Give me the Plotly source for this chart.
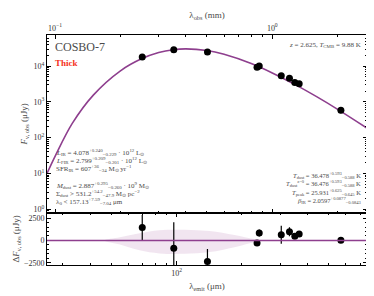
import numpy as np
import plotly.graph_objects as go

z = 2.625
# observed photometry (lambda_obs in mm, flux in microJy)
lam_obs_mm = [0.252, 0.352, 0.503, 0.851, 0.871, 1.10, 1.20, 1.27, 1.33, 2.07]
flux_ujy = [18100, 28600, 24800, 9270, 10100, 5420, 4570, 3490, 3200, 581]
resid_ujy = [1465, -866, -2350, -280, 830, 640, 975, 465, 720, 20]
resid_err = [1400, 2900, 1400, 250, 400, 1000, 500, 200, 200, 100]

# best-fit model curve
model_lam_mm = [0.0918, 0.1, 0.12, 0.15, 0.2, 0.25, 0.3, 0.35, 0.4, 0.5, 0.6, 0.8, 1.0, 1.3, 1.6, 2.0, 2.73]
model_flux = [10, 30, 250, 1550, 7400, 16000, 23900, 28700, 30300, 27300, 21400, 11800, 6450, 2850, 1400, 620, 185]

# residual uncertainty band
band_lam_mm = [0.169, 0.199, 0.245, 0.303, 0.395, 0.514, 0.670, 0.826, 0.918]
band_hi = [0, 350, 800, 1150, 1200, 1050, 600, 150, 0]
band_lo = [0, -450, -1100, -1450, -1500, -1300, -750, -200, 0]

def to_emit(lmm):
    return [v * 1000.0 / (1 + z) for v in lmm]

purple = "#8e3f8e"
txtc = "#4a4a4a"
font = "Liberation Serif"

fig = go.Figure()

fig.add_trace(go.Scatter(x=model_lam_mm, y=model_flux, mode="lines",
                         line=dict(color=purple, width=1.6, shape="spline"),
                         xaxis="x", yaxis="y", showlegend=False))
fig.add_trace(go.Scatter(x=lam_obs_mm, y=flux_ujy, mode="markers",
                         marker=dict(color="black", size=7),
                         error_y=dict(type="data", array=resid_err, color="black", thickness=1.2, width=0),
                         xaxis="x", yaxis="y", showlegend=False))

# residual panel
be = to_emit(band_lam_mm)
fig.add_trace(go.Scatter(x=be + be[::-1], y=band_hi + band_lo[::-1], fill="toself",
                         fillcolor="rgba(200,150,195,0.25)", line=dict(width=0),
                         mode="lines", xaxis="x2", yaxis="y2", showlegend=False,
                         line_shape="spline"))
fig.add_shape(type="line", xref="x2 domain", yref="y2", x0=0, x1=1, y0=0, y1=0,
              line=dict(color=purple, width=1.6))
fig.add_trace(go.Scatter(x=to_emit(lam_obs_mm), y=resid_ujy, mode="markers",
                         marker=dict(color="black", size=7),
                         error_y=dict(type="data", array=resid_err, color="black", thickness=1.2, width=0),
                         xaxis="x2", yaxis="y2", showlegend=False, cliponaxis=True))

xr_obs = [np.log10(0.0918), np.log10(2.73)]
xr_emit = [v + 3 - np.log10(1 + z) for v in xr_obs]

def minor_vals(d0, d1):
    return [k * 10.0 ** d for d in range(d0, d1) for k in range(2, 10)]

tickfont = dict(family=font, size=8, color="#333")
common = dict(showline=True, linecolor="black", linewidth=1, mirror="ticks",
              ticks="inside", ticklen=4, tickcolor="black", showgrid=False,
              zeroline=False, tickfont=tickfont)

# page body has an 8px margin: figure spans page x 8..374, y 8..296
fig.update_layout(
    width=366, height=288,
    margin=dict(l=39, r=6, t=20, b=30),
    paper_bgcolor="white", plot_bgcolor="white",
    font=dict(family=font, color=txtc),
    xaxis=dict(type="log", range=xr_obs, domain=[0, 1], anchor="y", side="top",
               tickvals=[0.1, 1], ticktext=["10<sup>−1</sup>", "10<sup>0</sup>"],
               minor=dict(tickvals=minor_vals(-2, 1), ticks="inside", ticklen=2, tickcolor="black"),
               title=dict(text="λ<sub>obs</sub> (mm)", font=dict(size=9, family=font, color=txtc), standoff=2),
               **common),
    yaxis=dict(type="log", range=[-0.1, 4.87], domain=[0.227, 1], anchor="x",
               tickvals=[1, 10, 100, 1000, 10000],
               ticktext=["10<sup>0</sup>", "10<sup>1</sup>", "10<sup>2</sup>", "10<sup>3</sup>", "10<sup>4</sup>"],
               minor=dict(tickvals=minor_vals(-1, 5), ticks="inside", ticklen=2, tickcolor="black"),
               title=dict(text="<i>F</i><sub>ν, obs</sub> (μJy)", font=dict(size=9, family=font, color=txtc), standoff=4),
               **common),
    xaxis2=dict(type="log", range=xr_emit, domain=[0, 1], anchor="y2", side="bottom",
                tickvals=[100], ticktext=["10<sup>2</sup>"],
                minor=dict(tickvals=minor_vals(1, 3), ticks="inside", ticklen=2, tickcolor="black"),
                title=dict(text="λ<sub>emit</sub> (μm)", font=dict(size=9, family=font, color=txtc), standoff=6),
                **common),
    yaxis2=dict(range=[-2750, 3100], domain=[0, 0.227], anchor="x2",
                tickvals=[-2500, 0, 2500], ticktext=["−2500", "0", "2500"],
                minor=dict(dtick=500, ticks="inside", ticklen=2, tickcolor="black"),
                title=dict(text="Δ<i>F</i><sub>ν, obs</sub> (μJy)", font=dict(size=9, family=font, color=txtc), standoff=2),
                **common),
)

def ann(text, x, y, size=7, xanchor="left", color=txtc, bold=False):
    fig.add_annotation(text=("<b>%s</b>" % text) if bold else text, x=x, y=y, xref="paper", yref="paper",
                       xanchor=xanchor, yanchor="middle", showarrow=False,
                       font=dict(family=font, size=size, color=color))

def py(ypix):
    return (266 - ypix) / 238.0

def pxl(xpix):
    return (xpix - 47) / 321.0

ann("COSBO-7", pxl(53), py(40), size=12)
ann("Thick", pxl(53), py(57), size=9, color="#f5301a", bold=True)
ann("<i>z</i> = 2.625, <i>T</i><sub>CMB</sub> = 9.88 K", pxl(364), py(38), size=7, xanchor="right")

left_lines = [
    ("<i>L</i><sub>IR</sub> = 4.078<sup>+0.240</sup><sub>−0.229</sub> · 10<sup>12</sup> L<sub>⊙</sub>", 150),
    ("<i>L</i><sub>FIR</sub> = 2.799<sup>+0.209</sup><sub>−0.201</sub> · 10<sup>12</sup> L<sub>⊙</sub>", 158),
    ("SFR<sub>IR</sub> = 607<sup>+36</sup><sub>−34</sub> M<sub>⊙</sub> yr<sup>−1</sup>", 166),
    ("<i>M</i><sub>dust</sub> = 2.887<sup>+0.295</sup><sub>−0.260</sub> · 10<sup>9</sup> M<sub>⊙</sub>", 184),
    ("Σ<sub>dust</sub> > 531.2<sup>+54.2</sup><sub>−47.9</sub> M<sub>⊙</sub> pc<sup>−2</sup>", 192),
    ("λ<sub>0</sub> < 157.13<sup>+7.59</sup><sub>−7.04</sub> μm", 200),
]
for t, yy in left_lines:
    ann(t, pxl(54), py(yy), size=7)

right_lines = [
    ("<i>T</i><sub>dust</sub> = 36.478<sup>+0.593</sup><sub>−0.588</sub> K", 173),
    ("<i>T</i><sub>dust</sub><sup>z=0</sup> = 36.476<sup>+0.593</sup><sub>−0.588</sub> K", 182),
    ("<i>T</i><sub>peak</sub> = 25.931<sup>+0.625</sup><sub>−0.645</sub> K", 190.5),
    ("<i>β</i><sub>IR</sub> = 2.0597<sup>+0.0877</sup><sub>−0.0843</sub>", 199),
]
for t, yy in right_lines:
    ann(t, pxl(364), py(yy), size=6.5, xanchor="right")

fig.write_html("out.html")
